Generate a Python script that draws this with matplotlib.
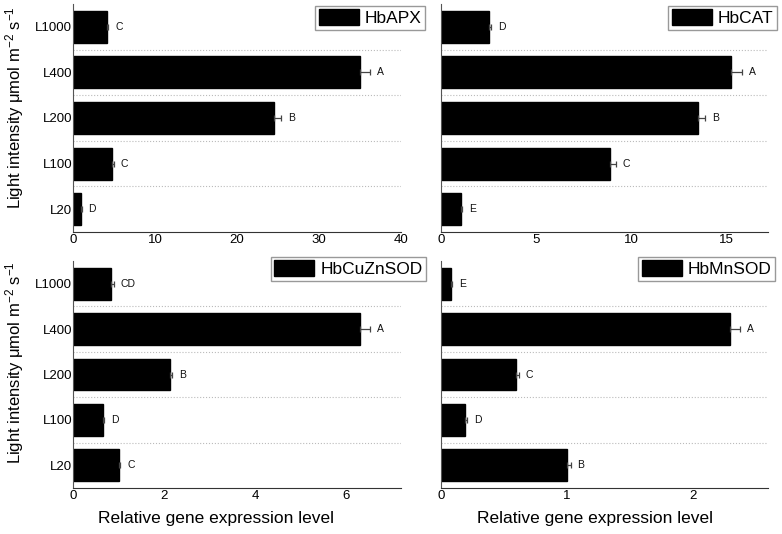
import numpy as np
import matplotlib
matplotlib.use("Agg")
from matplotlib import pyplot as plt

plt.rcParams['font.family'] = ['Liberation Sans', 'DejaVu Sans']
plt.rcParams['mathtext.fontset'] = 'custom'
plt.rcParams['mathtext.rm'] = 'Liberation Sans'
plt.rcParams['mathtext.it'] = 'Liberation Sans:italic'
plt.rcParams['mathtext.bf'] = 'Liberation Sans:bold'

# categories, bottom to top
levels = ['L20', 'L100', 'L200', 'L400', 'L1000']

genes = ['HbAPX', 'HbCAT', 'HbCuZnSOD', 'HbMnSOD']

apx_mean = [1.0, 4.8, 24.5, 35.0, 4.15]
apx_err = [0.05, 0.2, 0.9, 1.2, 0.15]
apx_sig = ['D', 'C', 'B', 'A', 'C']

cat_mean = [1.04, 8.9, 13.5, 15.26, 2.54]
cat_err = [0.05, 0.3, 0.4, 0.55, 0.08]
cat_sig = ['E', 'C', 'B', 'A', 'D']

cuzn_mean = [1.01, 0.66, 2.12, 6.3, 0.84]
cuzn_err = [0.03, 0.03, 0.06, 0.22, 0.05]
cuzn_sig = ['C', 'D', 'B', 'A', 'CD']

mn_mean = [1.0, 0.19, 0.6, 2.3, 0.08]
mn_err = [0.03, 0.015, 0.02, 0.08, 0.005]
mn_sig = ['B', 'D', 'C', 'A', 'E']

x_ticks = [[0, 10, 20, 30, 40], [0, 5, 10, 15], [0, 2, 4, 6], [0, 1, 2]]
x_max = [40, 17.2, 7.2, 2.6]

W, H = 782, 534
fig = plt.figure(figsize=(W / 100, H / 100), dpi=100)

def px_rect(l, t, r, b):
    return [l / W, 1 - b / H, (r - l) / W, (b - t) / H]

rects = [px_rect(73, 4, 401, 232), px_rect(441, 4, 768, 232),
         px_rect(73, 261, 401, 488), px_rect(441, 261, 768, 488)]
legend_anchor = [(425, 6), (777, 6), (426, 257), (775, 257)]

data = [(apx_mean, apx_err, apx_sig), (cat_mean, cat_err, cat_sig),
        (cuzn_mean, cuzn_err, cuzn_sig), (mn_mean, mn_err, mn_sig)]

y = np.arange(len(levels))
for i, (mean, err, sig) in enumerate(data):
    ax = fig.add_axes(rects[i])
    ax.barh(y, mean, height=0.7, color='black', edgecolor='black', label=genes[i], zorder=2)
    ax.errorbar(mean, y, xerr=[np.zeros(len(err)), err], fmt='none', ecolor='#444444',
                elinewidth=0.9, capsize=2.5, capthick=0.9, zorder=3)
    for j in range(len(levels)):
        ax.annotate(sig[j], (mean[j] + err[j], y[j]), xytext=(5, 0), textcoords='offset points',
                    ha='left', va='center', fontsize=7.5, color='#111111')
    for b in y[:-1] + 0.5:
        ax.axhline(b, color='#bbbbbb', linestyle=':', linewidth=0.8, zorder=1)
    ax.set_xlim(0, x_max[i])
    ax.set_ylim(-0.5, 4.5)
    ax.set_xticks(x_ticks[i])
    ax.set_yticks(y)
    if i % 2 == 0:
        ax.set_yticklabels(levels)
    else:
        ax.set_yticklabels([])
    ax.tick_params(axis='x', length=0, labelsize=9.5, pad=1.5)
    ax.tick_params(axis='y', length=0, labelsize=9.5, pad=0.5)
    ax.spines['top'].set_visible(False)
    ax.spines['right'].set_visible(False)
    ax.spines['left'].set_color('#555555')
    ax.spines['bottom'].set_color('#333333')
    lx, ly = legend_anchor[i]
    ax.legend(loc='upper right', bbox_to_anchor=(lx / W, 1 - ly / H), bbox_transform=fig.transFigure,
              fontsize=12.5, frameon=True, fancybox=False, edgecolor='#999999', framealpha=1,
              handlelength=2.3, handleheight=1.0, handletextpad=0.35, borderpad=0.2, borderaxespad=0)

ylabel = 'Light intensity \u03bcmol m$^{-2}$ s$^{-1}$'
fig.text(15 / W, 1 - 108 / H, ylabel, rotation=90, ha='center', va='center', fontsize=12)
fig.text(15 / W, 1 - 363 / H, ylabel, rotation=90, ha='center', va='center', fontsize=12)
fig.text(216 / W, 1 - 519 / H, 'Relative gene expression level', ha='center', va='center', fontsize=12.5)
fig.text(595 / W, 1 - 519 / H, 'Relative gene expression level', ha='center', va='center', fontsize=12.5)

fig.savefig('out.png', dpi=100)
